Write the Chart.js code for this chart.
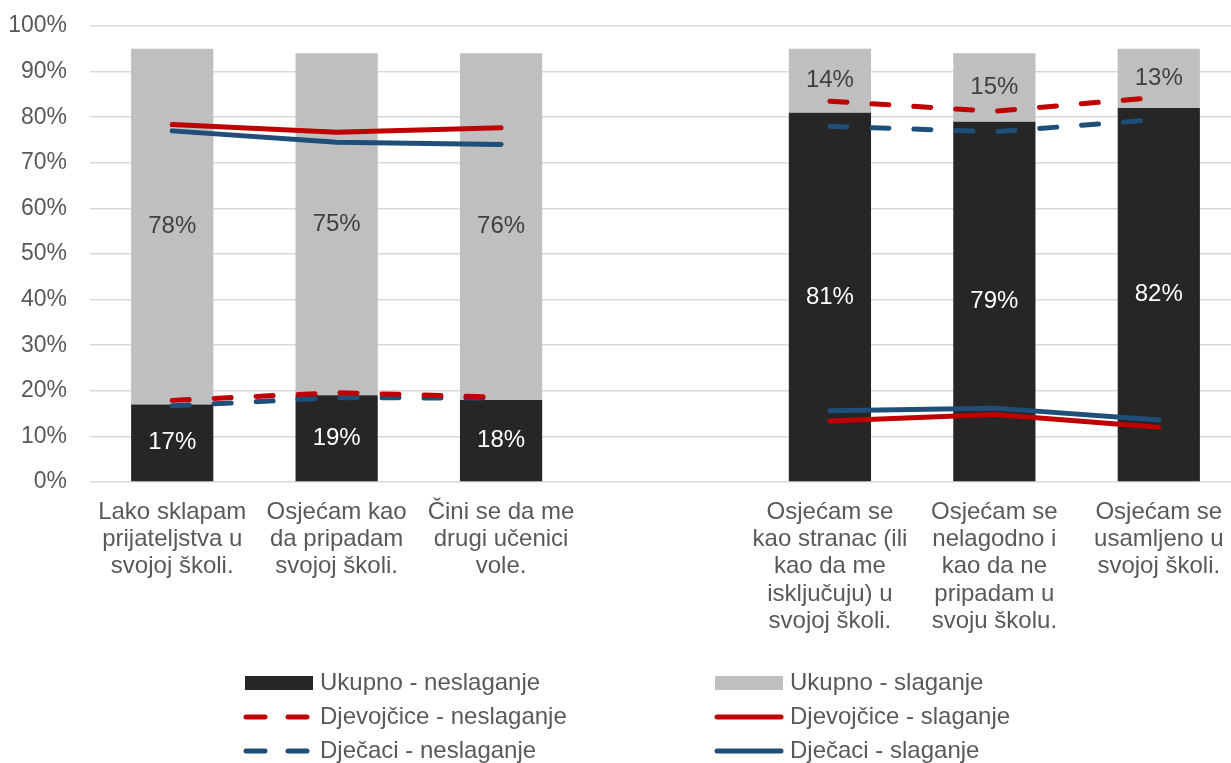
<!DOCTYPE html>
<html>
<head>
<meta charset="utf-8">
<script src="https://cdn.jsdelivr.net/npm/chart.js@4/dist/chart.umd.min.js"></script>
<style>
  html, body { margin: 0; padding: 0; background: #fff; overflow: hidden; }
  #wrap { width: 1241px; height: 763px; }
</style>
</head>
<body>
<div id="wrap"><canvas id="myChart" width="1241" height="763"></canvas></div>
<script>
const categories = [
  ['Lako sklapam', 'prijateljstva u', 'svojoj školi.'],
  ['Osjećam kao', 'da pripadam', 'svojoj školi.'],
  ['Čini se da me', 'drugi učenici', 'vole.'],
  '',
  ['Osjećam se', 'kao stranac (ili', 'kao da me', 'isključuju) u', 'svojoj školi.'],
  ['Osjećam se', 'nelagodno i', 'kao da ne', 'pripadam u', 'svoju školu.'],
  ['Osjećam se', 'usamljeno u', 'svojoj školi.']
];

const totalDisagree = [17, 19, 18, null, 81, 79, 82];
const totalAgree = [78, 75, 76, null, 14, 15, 13];
const girlsDisagree = [17.9, 19.6, 18.6, null, 83.5, 81.3, 84.4];
const girlsAgree = [78.4, 76.7, 77.7, null, 13.4, 14.8, 12.0];
const boysDisagree = [16.7, 18.5, 18.4, null, 78.0, 76.8, 79.5];
const boysAgree = [77.0, 74.5, 74.0, null, 15.6, 16.2, 13.6];

const yTicks = [0, 10, 20, 30, 40, 50, 60, 70, 80, 90, 100];

const FONT = '"Liberation Sans", Arial, sans-serif';
const TEXT = '#595959';

// value labels inside the bar segments
const barLabels = {
  id: 'barLabels',
  afterDatasetsDraw(chart) {
    const ctx = chart.ctx;
    ctx.save();
    ctx.font = '24px ' + FONT;
    ctx.textAlign = 'center';
    ctx.textBaseline = 'middle';
    [0, 1].forEach(i => {
      const ds = chart.data.datasets[i];
      chart.getDatasetMeta(i).data.forEach((bar, j) => {
        if (ds.data[j] == null) return;
        ctx.fillStyle = i === 0 ? '#ffffff' : '#404040';
        ctx.fillText(Math.round(ds.data[j]) + '%', bar.x, (bar.y + bar.base) / 2);
      });
    });
    ctx.restore();
  }
};

// two-column legend under the axis labels
const twoColLegend = {
  id: 'twoColLegend',
  afterDraw(chart) {
    const ctx = chart.ctx;
    const cols = [245, 715];
    const rows = [683, 717, 751];
    ctx.save();
    ctx.font = '24px ' + FONT;
    ctx.textBaseline = 'middle';
    chart.data.datasets.forEach((ds, i) => {
      const x = cols[i % 2];
      const y = rows[Math.floor(i / 2)];
      if (ds.type === 'bar') {
        ctx.fillStyle = ds.backgroundColor;
        ctx.fillRect(x, y - 7, 68, 14);
      } else {
        ctx.strokeStyle = ds.borderColor;
        ctx.lineWidth = 5;
        ctx.lineCap = 'round';
        ctx.beginPath();
        if (ds.borderDash && ds.borderDash.length) {
          ctx.moveTo(x + 1, y); ctx.lineTo(x + 20, y);
          ctx.moveTo(x + 43, y); ctx.lineTo(x + 62, y);
        } else {
          ctx.moveTo(x + 2, y); ctx.lineTo(x + 66, y);
        }
        ctx.stroke();
      }
      ctx.fillStyle = TEXT;
      ctx.fillText(ds.label, x + 75, y);
    });
    ctx.restore();
  }
};

const lineStyle = (color, dashed) => ({
  type: 'line',
  borderColor: color,
  backgroundColor: color,
  borderWidth: 5,
  borderDash: dashed ? [17, 25] : [],
  borderCapStyle: 'round',
  borderJoinStyle: 'round',
  pointRadius: 0,
  tension: 0,
  spanGaps: false,
  order: 0
});

const ctx = document.getElementById('myChart').getContext('2d');
const chart = new Chart(ctx, {
  data: {
    labels: categories,
    datasets: [
      { type: 'bar', label: 'Ukupno - neslaganje', data: totalDisagree, backgroundColor: '#262626', stack: 'bars', order: 1, barPercentage: 1, categoryPercentage: 0.5 },
      { type: 'bar', label: 'Ukupno - slaganje', data: totalAgree, backgroundColor: '#bfbfbf', stack: 'bars', order: 1, barPercentage: 1, categoryPercentage: 0.5 },
      Object.assign(lineStyle('#c00000', true), { label: 'Djevojčice - neslaganje', data: girlsDisagree, stack: 'g1' }),
      Object.assign(lineStyle('#c00000', false), { label: 'Djevojčice - slaganje', data: girlsAgree, stack: 'g2' }),
      Object.assign(lineStyle('#1f4e79', true), { label: 'Dječaci - neslaganje', data: boysDisagree, stack: 'b1' }),
      Object.assign(lineStyle('#1f4e79', false), { label: 'Dječaci - slaganje', data: boysAgree, stack: 'b2' })
    ]
  },
  options: {
    responsive: false,
    animation: false,
    layout: { padding: { top: 26, left: 0, right: 0, bottom: 0 } },
    plugins: {
      legend: { display: false },
      tooltip: { enabled: false }
    },
    scales: {
      x: {
        stacked: true,
        grid: { display: false, drawTicks: false },
        border: { display: false },
        ticks: {
          autoSkip: false,
          maxRotation: 0,
          padding: 17,
          color: TEXT,
          font: { family: FONT, size: 24, lineHeight: 1.13 }
        },
        afterFit(scale) {
          scale.height = 281;
          scale.paddingLeft = 0;
          scale.paddingRight = 0;
        }
      },
      y: {
        stacked: true,
        min: 0,
        max: 100,
        afterBuildTicks(scale) { scale.ticks = yTicks.map(v => ({ value: v })); },
        grid: { color: '#d9d9d9', lineWidth: 1.5, drawTicks: false },
        border: { display: false },
        ticks: {
          padding: 23,
          color: TEXT,
          font: { family: FONT, size: 23 },
          callback: v => v + '%'
        },
        afterFit(scale) {
          scale.width = 90;
          scale.paddingTop = 0;
          scale.paddingBottom = 0;
        }
      }
    }
  },
  plugins: [barLabels, twoColLegend]
});
</script>
</body>
</html>
